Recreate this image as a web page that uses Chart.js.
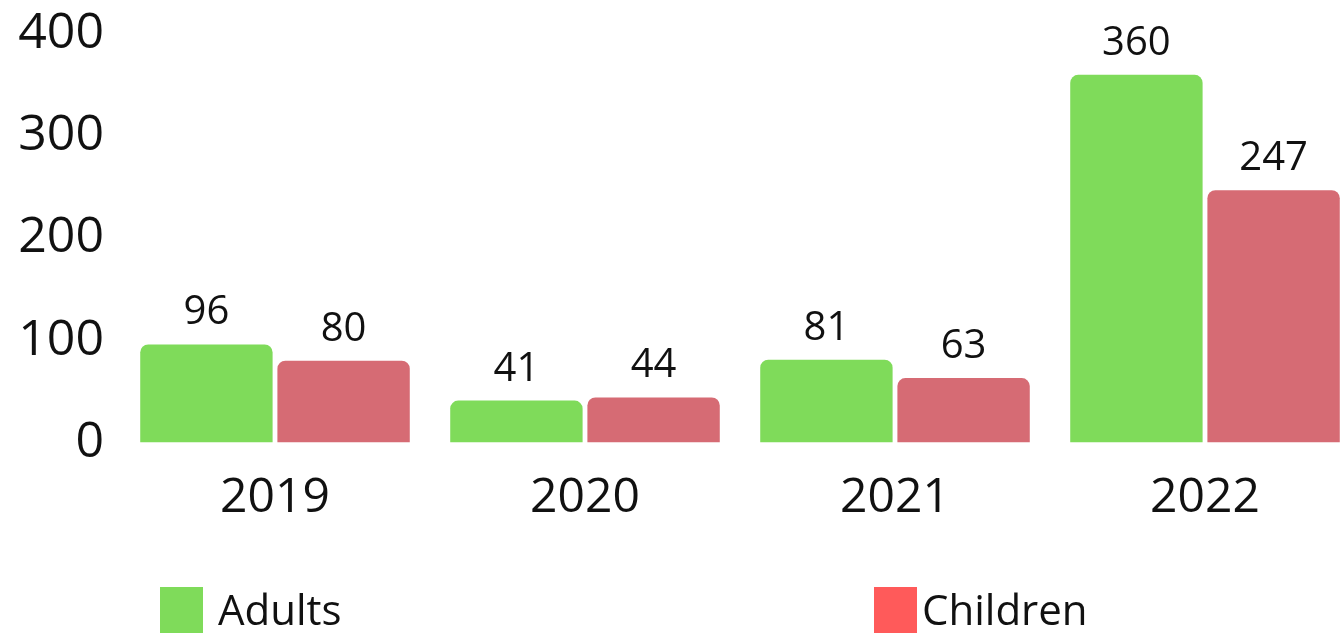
<!DOCTYPE html>
<html>
<head>
<meta charset="utf-8">
<script src="https://cdn.jsdelivr.net/npm/chart.js@4"></script>
<style>
  html, body { margin: 0; padding: 0; background: #fff; overflow: hidden; }
  #wrap { position: relative; width: 1370px; height: 633px; }
  .legend-item { position: absolute; top: 583px; display: flex; align-items: center; font-family: "Open Sans", sans-serif; font-size: 42px; color: #111; }
  .legend-item span { position: relative; top: -3px; }
  .legend-box { width: 43px; height: 50px; }
</style>
</head>
<body>
<div id="wrap">
  <canvas id="chart" width="1370" height="633"></canvas>
  <div class="legend-item" style="left:160px"><div class="legend-box" style="background:#7fdb5a"></div><span style="margin-left:15px">Adults</span></div>
  <div class="legend-item" style="left:874px"><div class="legend-box" style="background:#ff5a5a"></div><span style="margin-left:5px">Children</span></div>
</div>
<script>
// chart data
var years = ['2019', '2020', '2021', '2022'];
var adults = [96, 41, 81, 360];
var children = [80, 44, 63, 247];
var yTicks = [0, 100, 200, 300, 400];

var textColor = '#111111';
var fontFamily = '"Open Sans", sans-serif';

// draw values above each bar
var valueLabels = {
    id: 'valueLabels',
    afterDatasetsDraw: function (chart) {
        var ctx = chart.ctx;
        ctx.save();
        ctx.font = '40px ' + fontFamily;
        ctx.fillStyle = textColor;
        ctx.textAlign = 'center';
        ctx.textBaseline = 'alphabetic';
        chart.data.datasets.forEach(function (ds, i) {
            chart.getDatasetMeta(i).data.forEach(function (bar, j) {
                ctx.fillText(ds.data[j], bar.x, bar.y - 20);
            });
        });
        ctx.restore();
    }
};

var data = {
    labels: years,
    datasets: [{
        label: 'Adults',
        data: adults,
        backgroundColor: '#7fdb5a',
        borderRadius: { topLeft: 8, topRight: 8 },
        borderSkipped: 'bottom'
    }, {
        label: 'Children',
        data: children,
        backgroundColor: '#d66b74',
        borderRadius: { topLeft: 8, topRight: 8 },
        borderSkipped: 'bottom'
    }]
};

var options = {
    responsive: false,
    animation: false,
    layout: { padding: { top: 34, left: 10, right: 10, bottom: 87 } },
    datasets: { bar: { barPercentage: 0.965, categoryPercentage: 0.885 } },
    plugins: {
        legend: { display: false },
        tooltip: { enabled: false }
    },
    scales: {
        x: {
            grid: { display: false },
            border: { display: false },
            ticks: { color: textColor, font: { family: fontFamily, size: 48 }, padding: 19 }
        },
        y: {
            min: 0,
            max: 400,
            afterBuildTicks: function (scale) {
                scale.ticks = yTicks.map(function (v) { return { value: v }; });
            },
            afterFit: function (scale) {
                scale.width = 110;
                scale.paddingTop = 0;
                scale.paddingBottom = 0;
            },
            grid: { display: false },
            border: { display: false },
            ticks: { color: textColor, font: { family: fontFamily, size: 50 }, padding: 8 }
        }
    }
};

var canvas = document.getElementById('chart').getContext('2d');
var barChart = new Chart(canvas, {
    type: 'bar',
    data: data,
    options: options,
    plugins: [valueLabels]
});
</script>
</body>
</html>
